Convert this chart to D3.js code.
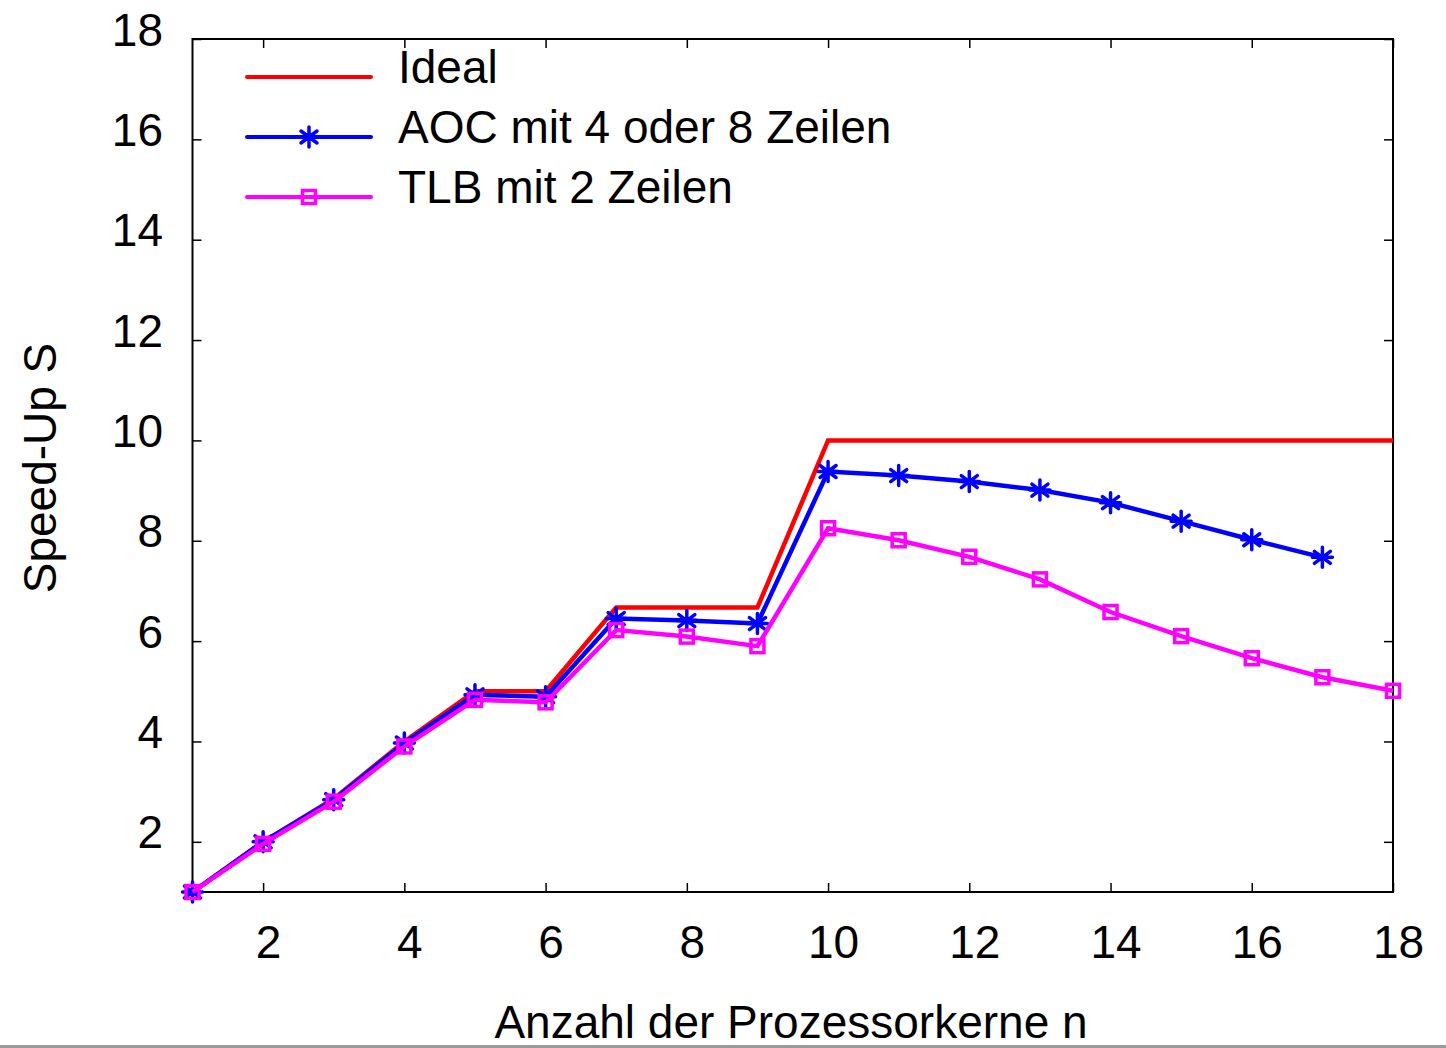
<!DOCTYPE html>
<html>
<head>
<meta charset="utf-8">
<script src="https://cdn.jsdelivr.net/npm/d3@7"></script>
<style>
  body { margin: 0; background: #fff; }
  svg { display: block; }
</style>
</head>
<body>
<svg id="chart"></svg>
<script>

// values
var cores = [1, 2, 3, 4, 5, 6, 7, 8, 9, 10, 11, 12, 13, 14, 15, 16, 17, 18];
var ideal = [1, 2, 2.86, 4, 5, 5, 6.67, 6.67, 6.67, 10, 10, 10, 10, 10, 10, 10, 10, 10];
var aoc = [1, 2.0, 2.84, 3.97, 4.93, 4.89, 6.45, 6.41, 6.35, 9.38, 9.30, 9.18, 9.01, 8.76, 8.39, 8.02, 7.67];
var tlb = [1, 1.96, 2.8, 3.9, 4.83, 4.78, 6.22, 6.09, 5.90, 8.25, 8.01, 7.68, 7.23, 6.58, 6.10, 5.66, 5.28, 5.01];
var xTicks = [2, 4, 6, 8, 10, 12, 14, 16, 18];
var yTicks = [2, 4, 6, 8, 10, 12, 14, 16, 18];
var seriesNames = ["Ideal", "AOC mit 4 oder 8 Zeilen", "TLB mit 2 Zeilen"];
var xTitle = "Anzahl der Prozessorkerne n";
var yTitle = "Speed-Up S";

var svgWidth = 1446;
var svgHeight = 1048;
var plot = {left: 192.5, right: 1393, top: 39, bottom: 892};
var fontFam = "'Liberation Sans', Arial, Helvetica, sans-serif";
var fontSize = 46;

var svg = d3.select("#chart")
    .attr("width", svgWidth)
    .attr("height", svgHeight);

// scales
var xScale = d3.scaleLinear()
    .domain([1, 18])
    .range([plot.left, plot.right]);

var yScale = d3.scaleLinear()
    .domain([1, 18])
    .range([plot.bottom, plot.top]);

// axes, ticks pointing inwards
var xAxis = svg.append("g")
    .attr("transform", "translate(0," + plot.bottom + ")")
    .call(d3.axisBottom(xScale).tickValues(xTicks).tickSize(-9).tickFormat(d3.format("d")));

xAxis.selectAll("text")
    .attr("y", 66)
    .attr("dy", 0)
    .attr("dx", 5);

var yAxis = svg.append("g")
    .attr("transform", "translate(" + plot.left + ",0)")
    .call(d3.axisLeft(yScale).tickValues(yTicks).tickSize(-9).tickFormat(d3.format("d")));

yAxis.selectAll("text")
    .attr("x", 163 - plot.left)
    .attr("dy", 6);

var topAxis = svg.append("g")
    .attr("transform", "translate(0," + plot.top + ")")
    .call(d3.axisTop(xScale).tickValues(xTicks).tickSize(-9).tickFormat(""));

var rightAxis = svg.append("g")
    .attr("transform", "translate(" + plot.right + ",0)")
    .call(d3.axisRight(yScale).tickValues(yTicks).tickSize(-9).tickFormat(""));

[xAxis, yAxis, topAxis, rightAxis].forEach(function(ax) {
  ax.select(".domain").remove();
  ax.selectAll("line").attr("stroke", "#000").attr("stroke-width", 1.5);
  ax.selectAll("text")
    .attr("fill", "#000")
    .style("font-family", fontFam)
    .style("font-size", fontSize + "px");
});

// frame
svg.append("rect")
    .attr("x", plot.left)
    .attr("y", plot.top)
    .attr("width", plot.right - plot.left)
    .attr("height", plot.bottom - plot.top)
    .attr("fill", "none")
    .attr("stroke", "#000")
    .attr("stroke-width", 2);

// axis titles
svg.append("text")
    .attr("x", 791)
    .attr("y", 1038)
    .attr("text-anchor", "middle")
    .style("font-family", fontFam)
    .style("font-size", fontSize + "px")
    .text(xTitle);

svg.append("text")
    .attr("transform", "translate(56,468) rotate(-90)")
    .attr("text-anchor", "middle")
    .style("font-family", fontFam)
    .style("font-size", fontSize + "px")
    .text(yTitle);

// markers
var asterisk = "M0,-10V10M-10,0H10M-8,-6L8,6M-8,6L8,-6";

function drawMarker(g, kind, color) {
  if (kind == "star") {
    g.append("path")
      .attr("d", asterisk)
      .attr("stroke", color)
      .attr("stroke-width", 3.5)
      .attr("stroke-linecap", "round")
      .attr("fill", "none");
  }
  else if (kind == "square") {
    g.append("rect")
      .attr("x", -6.5)
      .attr("y", -6.5)
      .attr("width", 13)
      .attr("height", 13)
      .attr("stroke", color)
      .attr("stroke-width", 3.5)
      .attr("fill", "none");
  }
}

var series = [
  {name: seriesNames[0], values: ideal, color: "#ff0000", marker: null},
  {name: seriesNames[1], values: aoc, color: "#0000ff", marker: "star"},
  {name: seriesNames[2], values: tlb, color: "#ff00ff", marker: "square"}
];

var line = d3.line()
    .x(function(d, i) { return xScale(cores[i]); })
    .y(function(d) { return yScale(d); });

series.forEach(function(s) {
  svg.append("path")
    .datum(s.values)
    .attr("d", line)
    .attr("fill", "none")
    .attr("stroke", s.color)
    .attr("stroke-width", 4.5)
    .attr("stroke-linejoin", "miter");

  if (s.marker) {
    svg.selectAll(".m-" + s.marker)
      .data(s.values)
      .enter()
      .append("g")
      .attr("class", "m-" + s.marker)
      .attr("transform", function(d, i) {
        return "translate(" + xScale(cores[i]) + "," + yScale(d) + ")";
      })
      .each(function() { drawMarker(d3.select(this), s.marker, s.color); });
  }
});

// legend
var legend = svg.append("g").attr("transform", "translate(247,77)");

series.forEach(function(s, i) {
  var row = legend.append("g").attr("transform", "translate(0," + (i * 60) + ")");
  row.append("line")
    .attr("x1", 0)
    .attr("x2", 124)
    .attr("y1", 0)
    .attr("y2", 0)
    .attr("stroke", s.color)
    .attr("stroke-width", 4)
    .attr("stroke-linecap", "round");
  if (s.marker) {
    drawMarker(row.append("g").attr("transform", "translate(62,0)"), s.marker, s.color);
  }
  row.append("text")
    .attr("x", 151)
    .attr("y", 6)
    .style("font-family", fontFam)
    .style("font-size", fontSize + "px")
    .text(s.name);
});

// grey rule at the very bottom of the picture
svg.append("rect")
    .attr("x", 0)
    .attr("y", 1045)
    .attr("width", svgWidth)
    .attr("height", 3)
    .attr("fill", "#9a9a9a");

</script>
</body>
</html>
